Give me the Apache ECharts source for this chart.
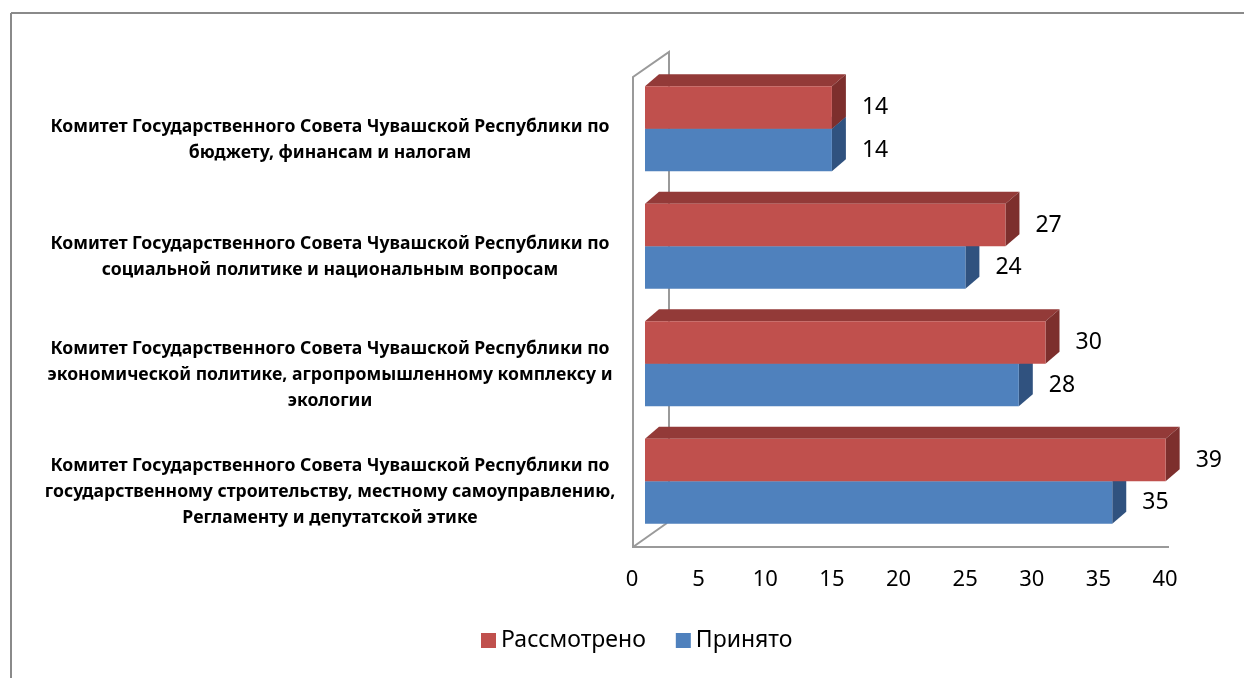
<!DOCTYPE html>
<html>
<head>
<meta charset="utf-8">
<script src="https://cdn.jsdelivr.net/npm/echarts@6/dist/echarts.min.js"></script>
<style>
  html, body { margin: 0; padding: 0; background: #fff; }
  #chart { width: 1244px; height: 678px; }
</style>
</head>
<body>
<div id="chart"></div>
<script>
const categories = [
  "Комитет Государственного Совета Чувашской Республики по\nбюджету, финансам и налогам",
  "Комитет Государственного Совета Чувашской Республики по\nсоциальной политике и национальным вопросам",
  "Комитет Государственного Совета Чувашской Республики по\nэкономической политике, агропромышленному комплексу и\nэкологии",
  "Комитет Государственного Совета Чувашской Республики по\nгосударственному строительству, местному самоуправлению,\nРегламенту и депутатской этике"
];
const reviewed = [14, 27, 30, 39];
const adopted = [14, 24, 28, 35];
const seriesNames = ["Рассмотрено", "Принято"];
const xTicks = { min: 0, max: 40, interval: 5 };

const DX = 14, DY = -12;

function makeRender(colors, upper) {
  return function (params, api) {
    const cat = api.value(0);
    const val = api.value(1);
    const band = api.size([0, 1])[1];
    const h = band * 0.3625;
    const start = api.coord([0, cat]);
    const end = api.coord([val, cat]);
    const y0 = upper ? start[1] - h : start[1];
    const x0 = start[0], x1 = end[0];
    return {
      type: "group",
      children: [
        {
          type: "polygon",
          shape: { points: [[x0, y0], [x0 + DX, y0 + DY], [x1 + DX, y0 + DY], [x1, y0]] },
          style: { fill: colors.top }
        },
        {
          type: "polygon",
          shape: { points: [[x1, y0], [x1 + DX, y0 + DY], [x1 + DX, y0 + h + DY], [x1, y0 + h]] },
          style: { fill: colors.side }
        },
        {
          type: "rect",
          shape: { x: x0, y: y0, width: x1 - x0, height: h },
          style: { fill: colors.front },
          textContent: {
            style: { text: String(val), fontSize: 23, fontFamily: "Noto Sans", fill: "#000" }
          },
          textConfig: { position: "right", distance: 30 }
        }
      ]
    };
  };
}

const chart = echarts.init(document.getElementById("chart"));
chart.setOption({
  animation: false,
  textStyle: { fontFamily: "Noto Sans" },
  legend: {
    data: seriesNames,
    bottom: 21,
    left: 476,
    icon: "rect",
    itemWidth: 15,
    itemHeight: 15,
    itemGap: 30,
    textStyle: { fontSize: 23, color: "#000", fontFamily: "Noto Sans" }
  },
  grid: [
    { left: 645, width: 534, top: 70, height: 470 },
    { left: 632, width: 533, top: 70, bottom: 131 },
    { left: 645, width: 534, top: 81, height: 470 }
  ],
  xAxis: [
    { gridIndex: 0, type: "value", min: xTicks.min, max: xTicks.max, interval: xTicks.interval, show: false },
    {
      gridIndex: 1, type: "value", min: xTicks.min, max: xTicks.max, interval: xTicks.interval,
      axisLine: { show: false }, axisTick: { show: false }, splitLine: { show: false },
      axisLabel: { fontSize: 22, color: "#000", margin: 22, fontFamily: "Noto Sans" }
    },
    { gridIndex: 2, type: "value", min: xTicks.min, max: xTicks.max, interval: xTicks.interval, show: false }
  ],
  yAxis: [
    { gridIndex: 0, type: "category", data: categories, inverse: true, show: false },
    { gridIndex: 1, type: "value", show: false },
    {
      gridIndex: 2, type: "category", data: categories, inverse: true,
      axisLine: { show: false }, axisTick: { show: false },
      axisLabel: {
        margin: 315, align: "center", fontWeight: "bold", fontSize: 17.6,
        lineHeight: 26, color: "#000", fontFamily: "Noto Sans"
      }
    }
  ],
  graphic: [
    { type: "line", shape: { x1: 11, y1: 13, x2: 1244, y2: 13 }, style: { stroke: "#8a8a8a", lineWidth: 2 } },
    { type: "line", shape: { x1: 11, y1: 13, x2: 11, y2: 678 }, style: { stroke: "#8a8a8a", lineWidth: 2 } },
    {
      type: "polyline", z: -1,
      shape: { points: [[669, 523], [669, 52], [633, 77], [633, 547], [1169, 547]] },
      style: { stroke: "#9a9a9a", lineWidth: 2, fill: null }
    },
    { type: "line", z: -1, shape: { x1: 633, y1: 547, x2: 667, y2: 523 }, style: { stroke: "#9a9a9a", lineWidth: 2 } }
  ],
  series: [
    {
      name: seriesNames[0], type: "custom", z: 3,
      xAxisIndex: 0, yAxisIndex: 0,
      itemStyle: { color: "#C0504D" },
      renderItem: makeRender({ front: "#C0504D", top: "#933A38", side: "#7D2F2D" }, true),
      encode: { x: 1, y: 0 },
      data: reviewed.map((v, i) => [i, v])
    },
    {
      name: seriesNames[1], type: "custom", z: 2,
      xAxisIndex: 0, yAxisIndex: 0,
      itemStyle: { color: "#4F81BD" },
      renderItem: makeRender({ front: "#4F81BD", top: "#3B6396", side: "#30527F" }, false),
      encode: { x: 1, y: 0 },
      data: adopted.map((v, i) => [i, v])
    }
  ]
});
</script>
</body>
</html>
